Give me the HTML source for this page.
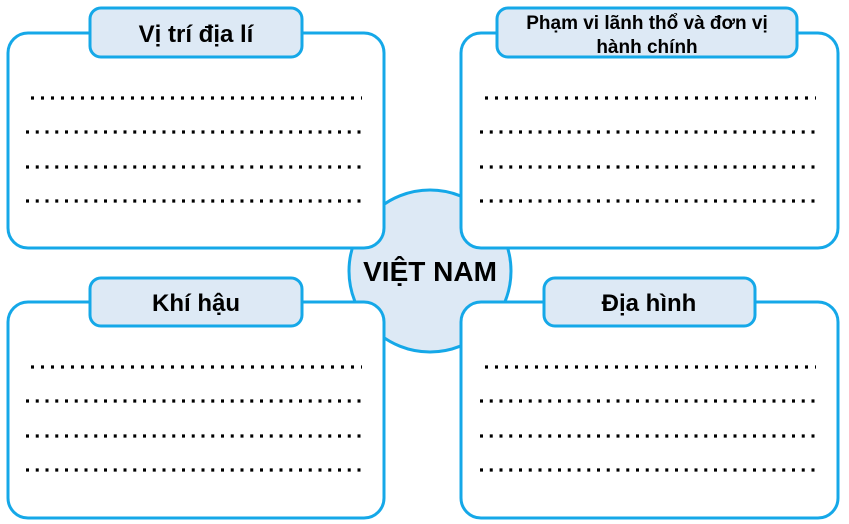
<!DOCTYPE html>
<html><head><meta charset="utf-8"><style>
html,body{margin:0;padding:0;background:#fff;}
svg{display:block;}
text{font-family:"Liberation Sans",Arial,sans-serif;font-weight:bold;fill:#000;}
</style></head><body>
<svg width="849" height="524" viewBox="0 0 849 524" xmlns="http://www.w3.org/2000/svg">
<circle cx="430" cy="271" r="81" fill="#dde9f5" stroke="#15a8e8" stroke-width="3"/>
<g fill="#fff" stroke="#15a8e8" stroke-width="3">
<rect x="8" y="33" width="376" height="215" rx="20"/>
<rect x="461" y="33" width="377" height="215" rx="20"/>
<rect x="8" y="302" width="376" height="216" rx="20"/>
<rect x="461" y="302" width="377" height="216" rx="20"/>
</g>
<g fill="#dde9f5" stroke="#15a8e8" stroke-width="3">
<rect x="90" y="8" width="212" height="49" rx="11"/>
<rect x="497" y="8" width="300" height="49" rx="11"/>
<rect x="90" y="278" width="212" height="48" rx="11"/>
<rect x="544" y="278" width="211" height="48" rx="11"/>
</g>
<text x="196" y="42" font-size="24" text-anchor="middle">Vị trí địa lí</text>
<text x="647" y="29" font-size="19" text-anchor="middle">Phạm vi lãnh thổ và đơn vị</text>
<text x="647" y="53" font-size="19" text-anchor="middle">hành chính</text>
<text x="196" y="311" font-size="24" text-anchor="middle">Khí hậu</text>
<text x="649" y="311" font-size="24" text-anchor="middle">Địa hình</text>
<text x="430" y="281" font-size="28" text-anchor="middle">VIỆT NAM</text>
<g stroke="#000" stroke-width="3.2">
<line x1="31" y1="98" x2="362" y2="98" stroke-dasharray="3 7"/>
<line x1="26" y1="132" x2="367" y2="132" stroke-dasharray="3 6.75"/>
<line x1="26" y1="167" x2="367" y2="167" stroke-dasharray="3 6.75"/>
<line x1="26" y1="201" x2="367" y2="201" stroke-dasharray="3 6.75"/>
<line x1="485" y1="98" x2="816" y2="98" stroke-dasharray="3 7"/>
<line x1="480" y1="132" x2="821" y2="132" stroke-dasharray="3 6.75"/>
<line x1="480" y1="167" x2="821" y2="167" stroke-dasharray="3 6.75"/>
<line x1="480" y1="201" x2="821" y2="201" stroke-dasharray="3 6.75"/>
<line x1="31" y1="367" x2="362" y2="367" stroke-dasharray="3 7"/>
<line x1="26" y1="401" x2="367" y2="401" stroke-dasharray="3 6.75"/>
<line x1="26" y1="436" x2="367" y2="436" stroke-dasharray="3 6.75"/>
<line x1="26" y1="470" x2="367" y2="470" stroke-dasharray="3 6.75"/>
<line x1="485" y1="367" x2="816" y2="367" stroke-dasharray="3 7"/>
<line x1="480" y1="401" x2="821" y2="401" stroke-dasharray="3 6.75"/>
<line x1="480" y1="436" x2="821" y2="436" stroke-dasharray="3 6.75"/>
<line x1="480" y1="470" x2="821" y2="470" stroke-dasharray="3 6.75"/>
</g>
</svg>
</body></html>
